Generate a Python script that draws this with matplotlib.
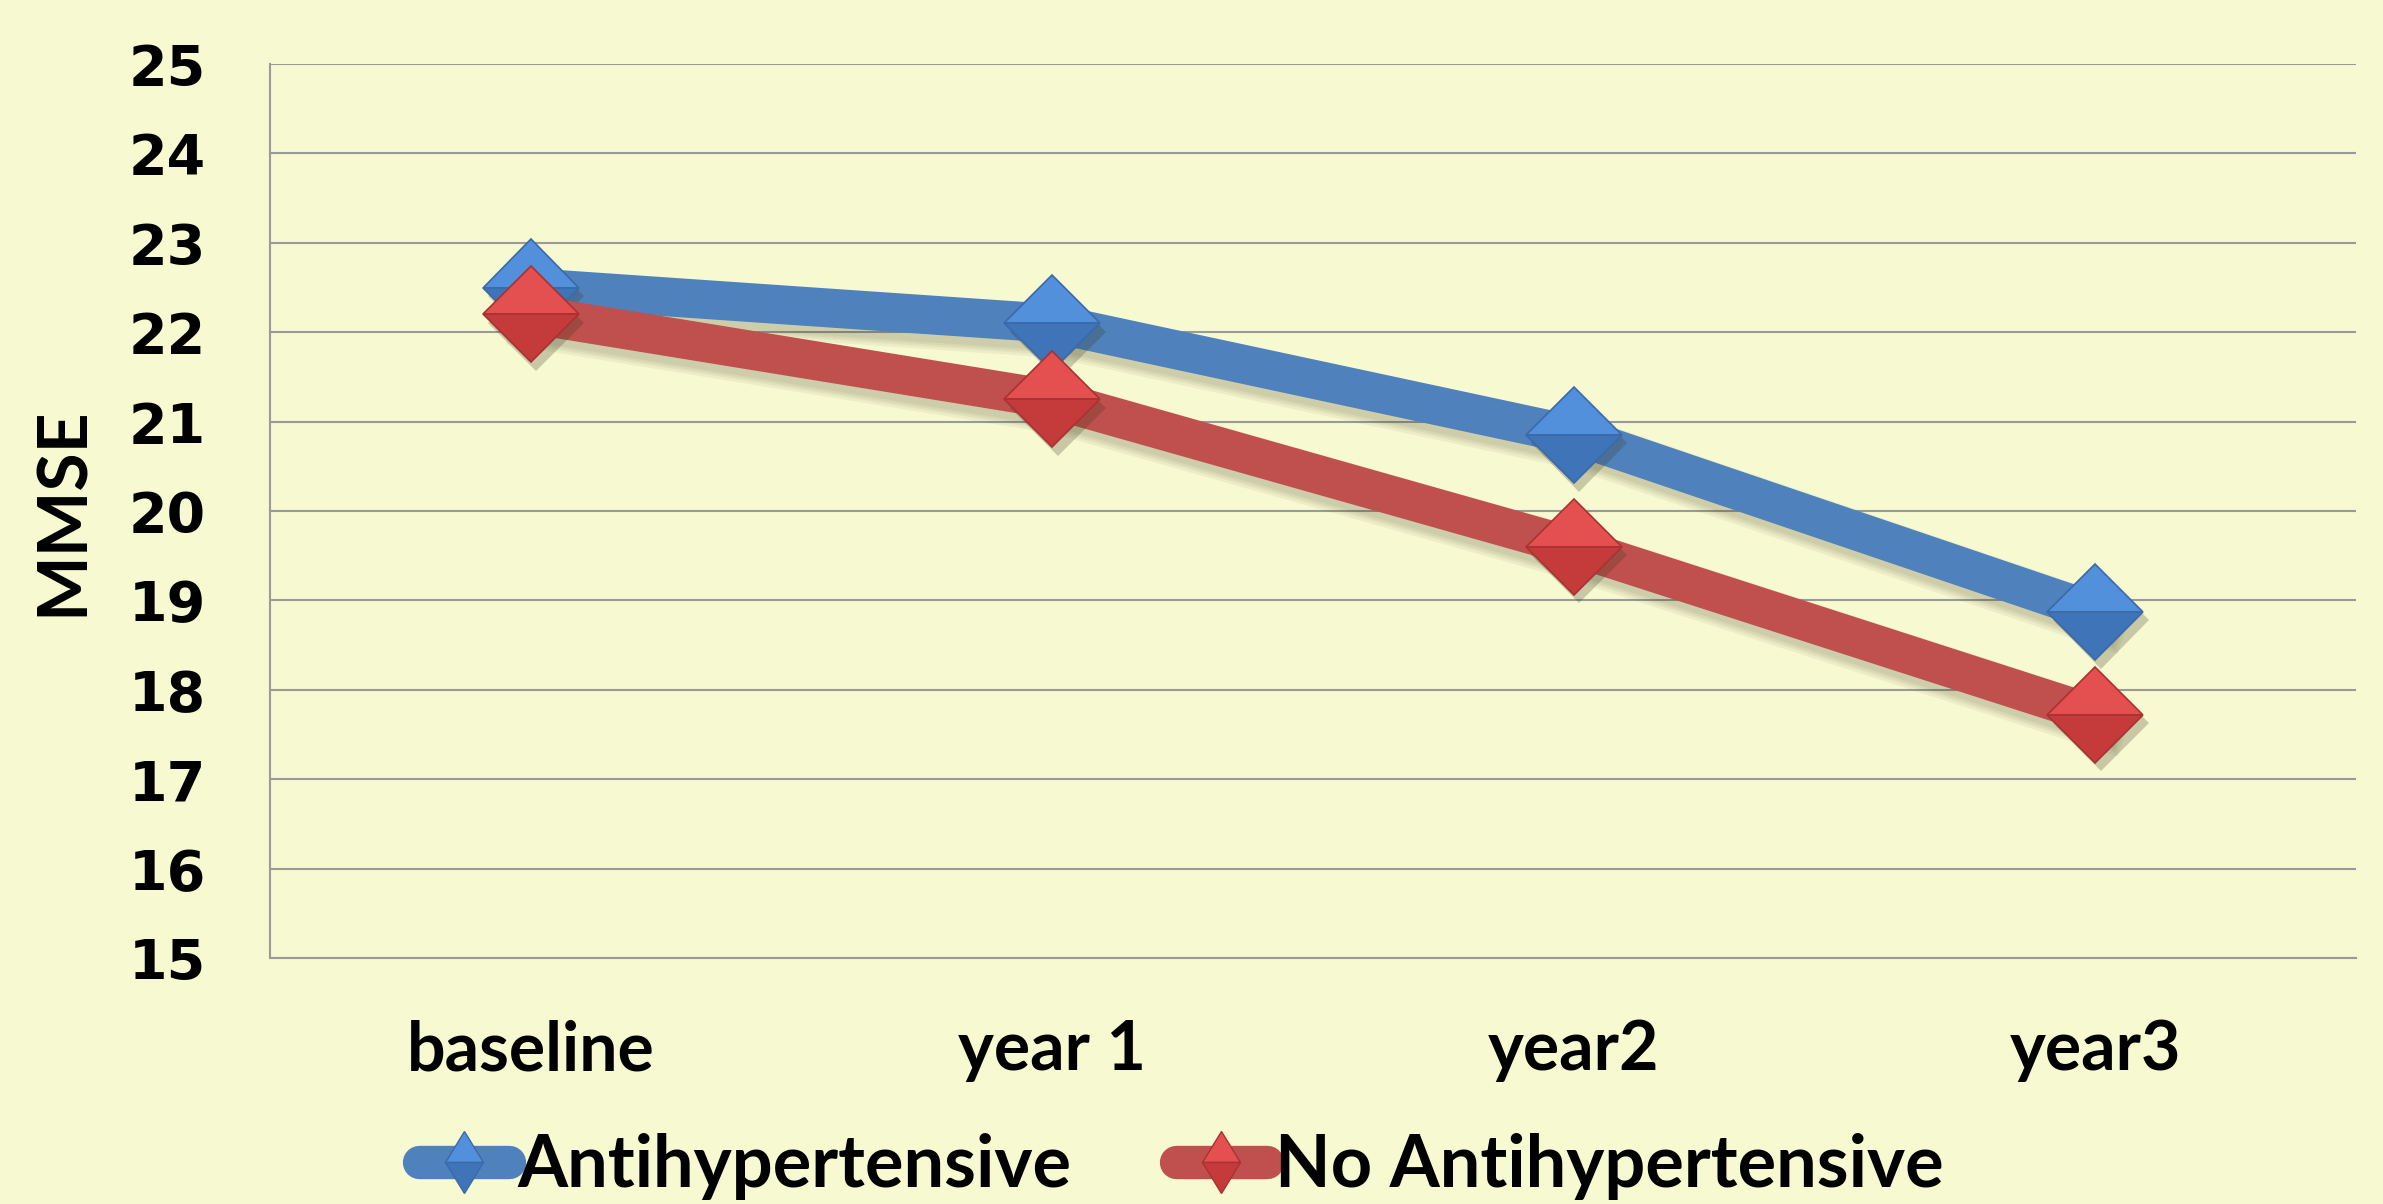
import matplotlib
matplotlib.use("Agg")
import matplotlib.pyplot as plt
import matplotlib.patheffects as pe
from matplotlib.lines import Line2D

categories = ["baseline", "year 1", "year2", "year3"]
anti = [22.5, 22.1, 20.85, 18.87]
no_anti = [22.2, 21.25, 19.6, 17.72]
series_names = ["Antihypertensive", "No Antihypertensive"]
yticks = list(range(15, 26))

BG = "#F7F9D1"
BLUE_LINE = "#4F81BD"
RED_LINE = "#C0504D"
GRID = "#9A9A9A"
SH = "#3c3c20"

fig = plt.figure(figsize=(23.83, 12.04), dpi=100, facecolor=BG)
ax = fig.add_axes([0.1133, 0.2043, 0.8754, 0.7425], facecolor=BG)

x = list(range(len(categories)))
LW = 28

line_shadow = [pe.SimpleLineShadow(offset=(4, -6), shadow_color=SH, alpha=0.06, linewidth=LW + w)
               for w in (10, 6, 3, 0)] + [pe.Normal()]
mk_shadow = [pe.SimplePatchShadow(offset=(4, -6), shadow_rgbFace=SH, alpha=0.25), pe.Normal()]

ax.plot(x, anti, color=BLUE_LINE, lw=LW, solid_joinstyle="round", zorder=3,
        path_effects=line_shadow)
ax.plot(x, anti, ls="none", marker="D", ms=49, fillstyle="top", mfc="#5290DC",
        markerfacecoloralt="#3F74B8", mec="#3A6AA8", mew=1.2, zorder=4, path_effects=mk_shadow)
ax.plot(x, no_anti, color=RED_LINE, lw=LW, solid_joinstyle="round", zorder=5,
        path_effects=line_shadow)
ax.plot(x, no_anti, ls="none", marker="D", ms=49, fillstyle="top", mfc="#E45050",
        markerfacecoloralt="#C53B3B", mec="#A83232", mew=1.2, zorder=6, path_effects=mk_shadow)

ax.set_xlim(-0.5, len(categories) - 0.5)
ax.set_ylim(15, 25)
ax.set_yticks(yticks)
ax.set_yticklabels([str(t) for t in yticks], fontfamily="DejaVu Sans", fontweight="bold", fontsize=40)
ax.set_xticks(x)
ax.set_xticklabels(categories, fontfamily="Lato", fontweight="bold", fontsize=49)
ax.tick_params(axis="y", length=0, pad=46)
ax.tick_params(axis="x", length=0, pad=44)
ax.grid(axis="y", color=GRID, lw=1.5, zorder=1)
ax.set_axisbelow(True)
for s in ["top", "right"]:
    ax.spines[s].set_visible(False)
for s in ["left", "bottom"]:
    ax.spines[s].set_color(GRID)
    ax.spines[s].set_linewidth(1.5)

ax.set_ylabel("MMSE", fontfamily="Lato", fontweight="bold", fontsize=50)
ax.yaxis.set_label_coords(-0.084, 0.5)

handles = [
    Line2D([0], [0], color=BLUE_LINE, lw=24, solid_capstyle="round", marker="d", ms=32,
           fillstyle="top", mfc="#5290DC", markerfacecoloralt="#3F74B8", mec="#3A6AA8"),
    Line2D([0], [0], color=RED_LINE, lw=24, solid_capstyle="round", marker="d", ms=32,
           fillstyle="top", mfc="#E45050", markerfacecoloralt="#C53B3B", mec="#A83232"),
]
leg = fig.legend(handles, series_names, loc="center", bbox_to_anchor=(0.4957, 0.031),
                 ncol=2, frameon=False, handlelength=1.25, handletextpad=0.12,
                 columnspacing=1.45, borderpad=0.0,
                 prop={"family": "Lato", "weight": "bold", "size": 52})

fig.savefig("out.png", dpi=100, facecolor=BG)
